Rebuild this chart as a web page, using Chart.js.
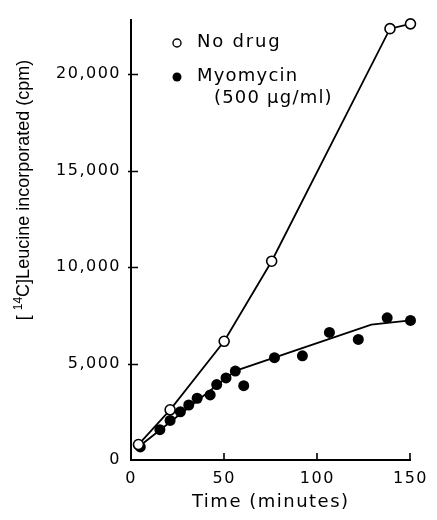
<!DOCTYPE html>
<html><head><meta charset="utf-8">
<script src="https://cdn.jsdelivr.net/npm/chart.js@4"></script>
<style>html,body{margin:0;padding:0;background:#fff}</style>
</head><body>
<canvas id="c" width="437" height="520"></canvas>
<script>
// ---- data ----
const noDrugTime = [4, 21, 50, 75.5, 139, 150];
const noDrugCpm  = [800, 2600, 6150, 10300, 22350, 22600];

const myoTime = [5, 15.5, 21, 26.5, 31, 35.5, 42.5, 46, 51, 56, 60.5, 77, 92, 106.5, 122, 137.5, 150];
const myoCpm  = [680, 1570, 2050, 2500, 2850, 3200, 3370, 3910, 4250, 4610, 3850, 5300, 5400, 6610, 6250, 7370, 7230];

const fitTime = [5, 56, 129, 150];
const fitCpm  = [750, 4620, 7010, 7230];

const yTickValues = [0, 5000, 10000, 15000, 20000];
const xTickValues = [0, 50, 100, 150];
const seriesLabels = ['No drug', 'Myomycin', '(500 \u03bcg/ml)'];
const xTitle = 'Time (minutes)';
const yTitleParts = ['[ ', '14', 'C]Leucine incorporated (cpm)'];

const toXY = (xs, ys) => xs.map((x, i) => ({x, y: ys[i]}));

const spacingPlugin = {
  id: 'spacing',
  beforeLayout(chart) { chart.ctx.letterSpacing = '1.5px'; },
  beforeDraw(chart) { chart.ctx.letterSpacing = '1.5px'; }
};

const decorPlugin = {
  id: 'decor',
  afterDraw(chart) {
    const ctx = chart.ctx;
    const xs = chart.scales.x, ys = chart.scales.y;
    const area = chart.chartArea;
    ctx.save();
    ctx.strokeStyle = '#000';
    ctx.lineWidth = 1.6;
    // inward ticks
    ctx.beginPath();
    yTickValues.filter(v => v > 0).forEach(v => {
      const p = Math.round(ys.getPixelForValue(v)) + 0.5;
      ctx.moveTo(area.left - 3, p); ctx.lineTo(area.left + 7, p);
    });
    xTickValues.filter(v => v > 0).forEach(v => {
      const p = Math.round(xs.getPixelForValue(v));
      ctx.moveTo(p, area.bottom); ctx.lineTo(p, area.bottom - 7);
    });
    ctx.stroke();

    // y title with superscript
    ctx.letterSpacing = '0px';
    ctx.fillStyle = '#000';
    const big = '18px "Liberation Sans"', small = '12px "Liberation Sans"';
    ctx.font = big; const w0 = ctx.measureText(yTitleParts[0]).width;
    ctx.font = small; const w1 = ctx.measureText(yTitleParts[1]).width;
    ctx.font = big; const w2 = ctx.measureText(yTitleParts[2]).width;
    const total = w0 + w1 + w2;
    ctx.translate(29, 190);
    ctx.rotate(-Math.PI / 2);
    ctx.textBaseline = 'alphabetic';
    ctx.textAlign = 'left';
    let cx = -total / 2;
    ctx.font = big; ctx.fillText(yTitleParts[0], cx, 0); cx += w0;
    ctx.font = small; ctx.fillText(yTitleParts[1], cx, -7); cx += w1;
    ctx.font = big; ctx.fillText(yTitleParts[2], cx, 0);
    ctx.restore();

    // legend
    ctx.save();
    ctx.letterSpacing = '1.8px';
    ctx.font = '18px "DejaVu Sans"';
    ctx.fillStyle = '#000';
    ctx.textBaseline = 'middle';
    ctx.textAlign = 'left';
    ctx.strokeStyle = '#000';
    ctx.lineWidth = 1.4;
    ctx.beginPath(); ctx.arc(177, 43, 4, 0, Math.PI * 2);
    ctx.fillStyle = '#fff'; ctx.fill(); ctx.stroke();
    ctx.fillStyle = '#000';
    ctx.beginPath(); ctx.arc(177, 77, 4.5, 0, Math.PI * 2); ctx.fill();
    ctx.fillText(seriesLabels[0], 197, 42);
    ctx.letterSpacing = '1.2px';
    ctx.fillText(seriesLabels[1], 197, 76);
    ctx.fillText(seriesLabels[2], 214, 98);
    ctx.restore();
  }
};

new Chart(document.getElementById('c'), {
  type: 'scatter',
  data: {
    datasets: [
      {
        label: seriesLabels[0],
        data: toXY(noDrugTime, noDrugCpm),
        showLine: true,
        borderColor: '#000',
        borderWidth: 1.8,
        pointBackgroundColor: '#fff',
        pointBorderColor: '#000',
        pointBorderWidth: 1.6,
        pointRadius: 5,
        tension: 0,
        clip: false,
        order: 0
      },
      {
        label: seriesLabels[1],
        data: toXY(myoTime, myoCpm),
        showLine: false,
        pointBackgroundColor: '#000',
        pointBorderColor: '#000',
        pointBorderWidth: 0,
        pointRadius: 5.5,
        clip: false,
        order: 1
      },
      {
        label: 'fit',
        data: toXY(fitTime, fitCpm),
        showLine: true,
        borderColor: '#000',
        borderWidth: 1.8,
        pointRadius: 0,
        tension: 0,
        clip: false,
        order: 2
      }
    ]
  },
  options: {
    responsive: false,
    animation: false,
    devicePixelRatio: 1,
    layout: { padding: { left: 0, top: 15, right: 19, bottom: 0 } },
    plugins: { legend: { display: false }, tooltip: { enabled: false } },
    scales: {
      x: {
        type: 'linear',
        min: 0, max: 150,
        afterFit(s) { s.height = 60; },
        afterBuildTicks(s) { s.ticks = xTickValues.map(v => ({value: v})); },
        border: { display: true, color: '#000', width: 2 },
        grid: { drawOnChartArea: false, drawTicks: false },
        ticks: { color: '#000', font: { family: 'DejaVu Sans', size: 16 }, padding: 9, maxRotation: 0, callback: v => String(v) },
        title: { display: true, text: xTitle, color: '#000', font: { family: 'DejaVu Sans', size: 18 }, padding: { top: 0, bottom: 7 } }
      },
      y: {
        type: 'linear',
        min: 0, max: 22820,
        afterFit(s) { s.width = 131; },
        afterBuildTicks(s) { s.ticks = yTickValues.map(v => ({value: v})); },
        border: { display: true, color: '#000', width: 2 },
        grid: { drawOnChartArea: false, drawTicks: false },
        ticks: { color: '#000', font: { family: 'DejaVu Sans', size: 16 }, padding: 10, callback: v => v.toLocaleString('en-US') },
        title: { display: false }
      }
    }
  },
  plugins: [spacingPlugin, decorPlugin]
});
</script>
</body></html>
